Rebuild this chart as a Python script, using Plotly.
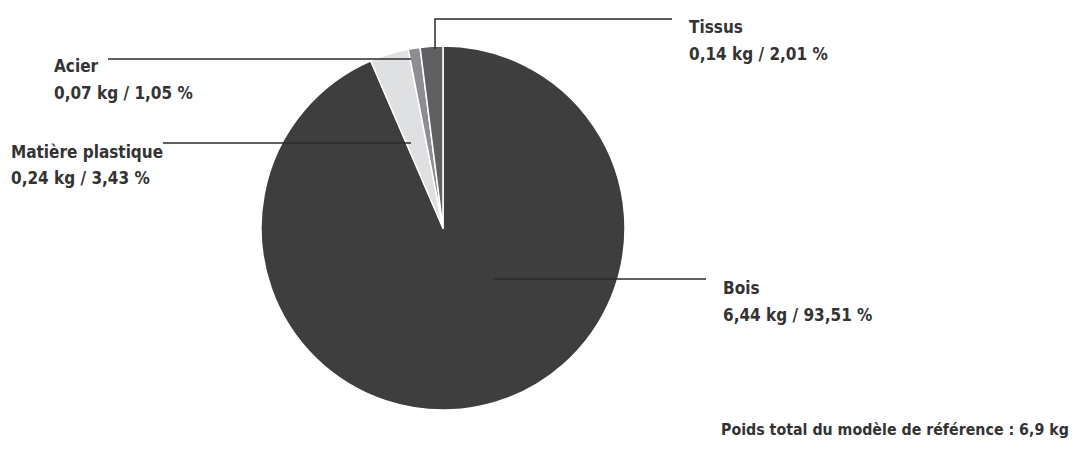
import plotly.graph_objects as go

W, H = 1073, 458

materials = ["Bois", "Matière plastique", "Acier", "Tissus"]
weights_kg = ["6,44", "0,24", "0,07", "0,14"]
percent = [93.51, 3.43, 1.05, 2.01]
percent_txt = ["93,51", "3,43", "1,05", "2,01"]
colors = ["#3e3e3e", "#dfe0e2", "#8d8e91", "#5f6062"]
footer = "Poids total du modèle de référence : 6,9 kg"

FONT = "DejaVu Sans Condensed, Liberation Sans Narrow, sans-serif"
TXT = "#333333"

# pie geometry in pixels
cx, cy, r = 443, 228, 182

fig = go.Figure(go.Pie(
    labels=materials,
    values=percent,
    sort=False,
    direction="clockwise",
    rotation=0,
    marker=dict(colors=colors, line=dict(color="white", width=1.5)),
    textinfo="none",
    hoverinfo="label+percent",
    domain=dict(x=[(cx - r) / W, (cx + r) / W], y=[1 - (cy + r) / H, 1 - (cy - r) / H]),
    showlegend=False,
))

def px(x):
    return x / W

def py(y):
    return 1 - y / H

# label layout (pixel): left x, baseline of first line
label_pos = {
    "Tissus": (688, 33),
    "Acier": (53, 72),
    "Matière plastique": (10, 157.5),
    "Bois": (722, 294),
}
leaders = {
    "Tissus": [(435, 49), (435, 19), (672, 19)],
    "Acier": [(411, 59), (108, 59)],
    "Matière plastique": [(411, 143), (163, 143)],
    "Bois": [(493, 279), (706, 279)],
}

annotations = []
shapes = []
LINE_GAP = 26.7
BASE_OFF = 6
for i, m in enumerate(materials):
    x0, b0 = label_pos[m]
    lines = [m, f"{weights_kg[i]} kg / {percent_txt[i]} %"]
    for k, t in enumerate(lines):
        annotations.append(dict(
            x=px(x0), y=py(b0 + k * LINE_GAP - BASE_OFF), xref="paper", yref="paper",
            text=f"<b>{t}</b>", showarrow=False, xanchor="left", yanchor="middle",
            font=dict(family=FONT, size=17, color=TXT), borderpad=0,
        ))
    pts = leaders[m]
    path = "M " + " L ".join(f"{px(a)},{py(b)}" for a, b in pts)
    shapes.append(dict(type="path", xref="paper", yref="paper", path=path,
                       line=dict(color="#2b2b2b", width=1.5)))

annotations.append(dict(
    x=px(1070), y=py(435 - BASE_OFF), xref="paper", yref="paper",
    text=f"<b>{footer}</b>", showarrow=False, xanchor="right", yanchor="middle",
    font=dict(family=FONT, size=15.8, color=TXT), borderpad=0,
))

fig.update_layout(
    width=W, height=H,
    margin=dict(l=0, r=0, t=0, b=0),
    paper_bgcolor="white", plot_bgcolor="white",
    annotations=annotations, shapes=shapes,
)

fig.write_html("out.html", config={"displayModeBar": False},
               post_script="document.body.style.margin='0';document.body.style.overflow='hidden';")
